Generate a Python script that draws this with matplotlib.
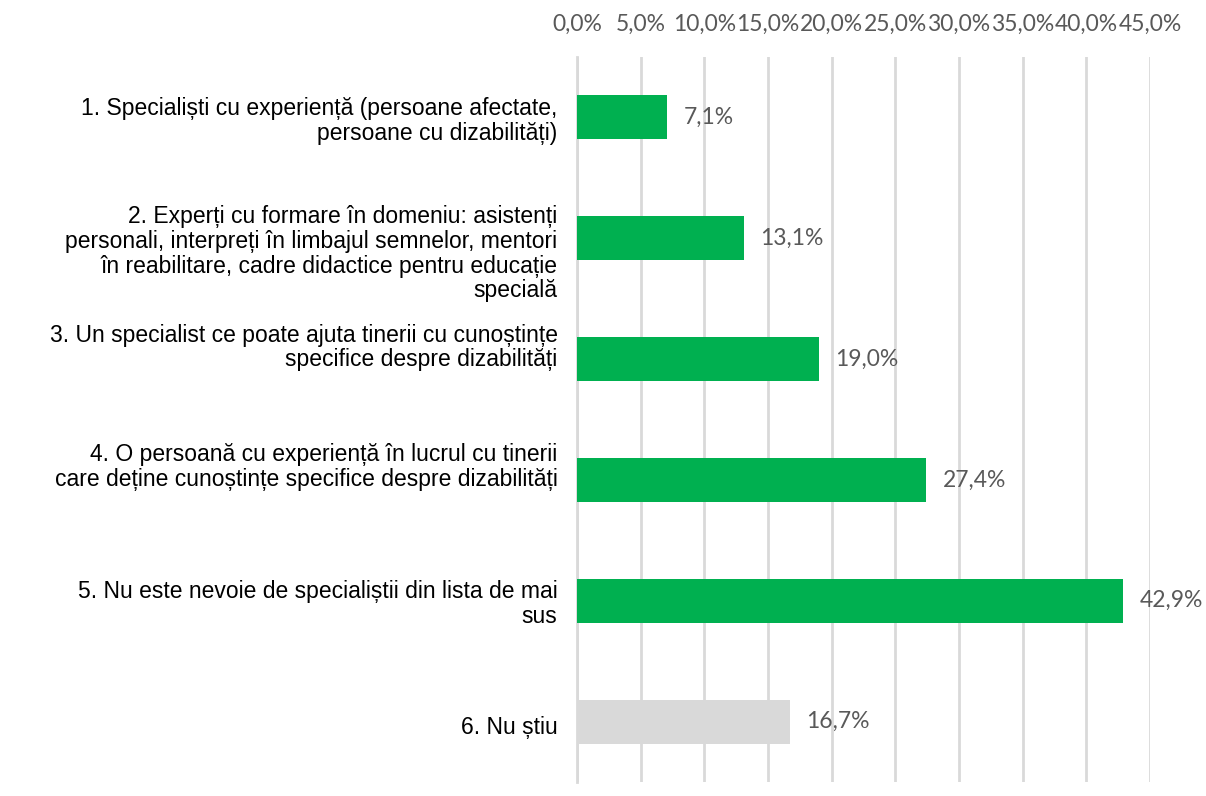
import matplotlib.pyplot as plt
import matplotlib.transforms as mtransforms
from matplotlib.ticker import FuncFormatter
import numpy as np

# data
categories = [
    "1. Specialiști cu experiență (persoane afectate,\npersoane cu dizabilități)",
    "2. Experți cu formare în domeniu: asistenți\npersonali, interpreți în limbajul semnelor, mentori\nîn reabilitare, cadre didactice pentru educație\nspecială",
    "3. Un specialist ce poate ajuta tinerii cu cunoștințe\nspecifice despre dizabilități",
    "4. O persoană cu experiență în lucrul cu tinerii\ncare deține cunoștințe specifice despre dizabilități",
    "5. Nu este nevoie de specialiștii din lista de mai\nsus",
    "6. Nu știu",
]
values = [0.071, 0.131, 0.190, 0.274, 0.429, 0.167]
colors = ["#00B050"] * 5 + ["#D9D9D9"]
ticks = [0, 0.05, 0.10, 0.15, 0.20, 0.25, 0.30, 0.35, 0.40, 0.45]

# vertical nudge of the category labels (pixels, + = up), like the Excel layout
label_shift = [0, -12, 15, 16, 0, -3]

fig = plt.figure(figsize=(12.06, 7.96), dpi=100)
ax = fig.add_axes([577 / 1206, 1 - 782 / 796, (1150 - 577) / 1206, (782 - 57) / 796])

y = np.arange(len(values))
ax.barh(y, values, height=0.365, color=colors, zorder=3)
ax.set_ylim(len(values) - 0.5, -0.5)
ax.set_xlim(0, 0.45)
ax.set_xticks(ticks)
ax.xaxis.set_major_formatter(FuncFormatter(lambda v, p: f"{v * 100:.1f}%".replace(".", ",")))
ax.xaxis.tick_top()
ax.tick_params(axis="x", length=0, pad=16, labelsize=16.5, labelcolor="#595959")
for lab in ax.get_xticklabels():
    lab.set_family("Lato")
ax.grid(axis="x", color="#D9D9D9", linewidth=2, zorder=0)
for s in ["top", "right", "bottom"]:
    ax.spines[s].set_visible(False)
ax.spines["left"].set_color("#D9D9D9")
ax.spines["left"].set_linewidth(2)

ax.set_yticks(y)
ax.set_yticklabels(categories, fontsize=16.5, family="Liberation Sans",
                   color="#000000", linespacing=1.1, ha="right")
ax.tick_params(axis="y", length=0, pad=14)
for lab, dy in zip(ax.get_yticklabels(), label_shift):
    lab.set_transform(lab.get_transform() + mtransforms.ScaledTranslation(0, dy / 100, fig.dpi_scale_trans))

for yi, v in zip(y, values):
    ax.annotate(f"{v * 100:.1f}%".replace(".", ","), (v, yi), xytext=(12, 0),
                textcoords="offset points", va="center", ha="left",
                fontsize=16.5, family="Lato", color="#595959")

fig.savefig("out.png", dpi=100)
